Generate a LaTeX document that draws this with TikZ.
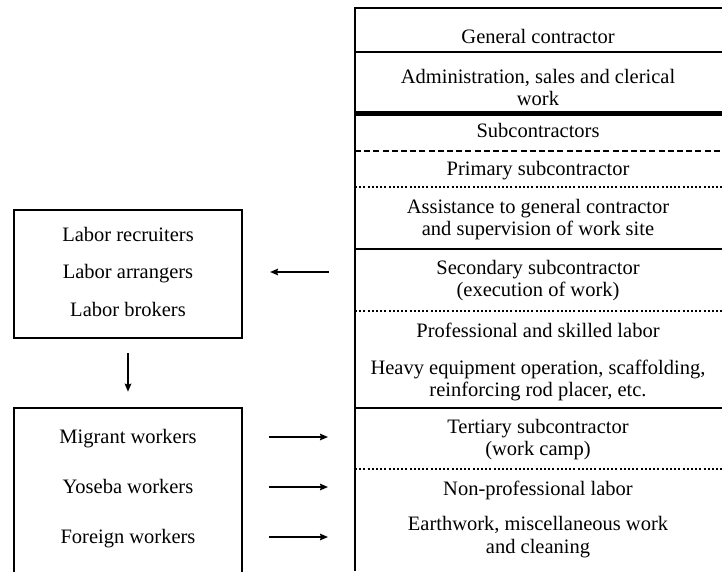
\documentclass[tikz,border=0pt]{standalone}
\usepackage{fontspec}
\setmainfont{Liberation Serif}
\usetikzlibrary{arrows.meta}
\begin{document}
\begin{tikzpicture}[x=1pt,y=-1pt,
  lbl/.style={font=\fontsize{20.5}{22}\selectfont, anchor=base, inner sep=0pt},
  frame/.style={draw, line width=2.6pt},
  solidrule/.style={line width=2.6pt},
  heavyrule/.style={line width=5pt},
  dashrule/.style={line width=2.4pt, dash pattern=on 6pt off 3.2pt},
  dotrule/.style={line width=2.4pt, dash pattern=on 2pt off 2.2pt},
  flow/.style={line width=2.6pt, -{Stealth[length=8pt,width=6.5pt,inset=1pt]}}]
\useasboundingbox (0,0) rectangle (722,571);

% ---- hierarchy column on the right ----
\draw[solidrule] (355,571) -- (355,8) -- (722,8);
\draw[solidrule] (355,52) -- (722,52);
\draw[heavyrule] (355,113) -- (722,113);
\draw[dashrule] (355,151) -- (722,151);
\draw[dotrule] (355,187) -- (722,187);
\draw[solidrule] (355,249) -- (722,249);
\draw[dotrule] (355,311) -- (722,311);
\draw[solidrule] (355,408) -- (722,408);
\draw[dotrule] (355,469) -- (722,469);

\node[lbl] (gc)     at (538,43)  {General contractor};
\node[lbl] (adm)    at (538,83)  {Administration, sales and clerical};
\node[lbl] (admb)   at (538,105) {work};
\node[lbl] (sub)    at (538,137) {Subcontractors};
\node[lbl] (prim)   at (538,175) {Primary subcontractor};
\node[lbl] (assist) at (538,213) {Assistance to general contractor};
\node[lbl] (assistb) at (538,235) {and supervision of work site};
\node[lbl] (sec)    at (538,274) {Secondary subcontractor};
\node[lbl] (secb)   at (538,296) {(execution of work)};
\node[lbl] (prof)   at (538,337) {Professional and skilled labor};
\node[lbl] (heavy)  at (538,374) {Heavy equipment operation, scaffolding,};
\node[lbl] (heavyb) at (538,396) {reinforcing rod placer, etc.};
\node[lbl] (ter)    at (538,433) {Tertiary subcontractor};
\node[lbl] (terb)   at (538,455) {(work camp)};
\node[lbl] (nonp)   at (538,495) {Non-professional labor};
\node[lbl] (earth)  at (538,530) {Earthwork, miscellaneous work};
\node[lbl] (earthb) at (538,553) {and cleaning};

% ---- intermediaries ----
\node[frame, minimum width=228pt, minimum height=128pt, inner sep=0pt] (brokers) at (128,274) {};
\node[lbl] (recr) at (128,241) {Labor recruiters};
\node[lbl] (arr)  at (128,278) {Labor arrangers};
\node[lbl] (brk)  at (128,316) {Labor brokers};

% ---- workers (box runs on past the lower edge) ----
\node[frame, minimum width=228pt, minimum height=212pt, inner sep=0pt] (workers) at (128,514) {};
\node[lbl] (mig) at (128,443) {Migrant workers};
\node[lbl] (yos) at (128,493) {Yoseba workers};
\node[lbl] (for) at (128,543) {Foreign workers};

% ---- arrows ----
\coordinate (secout) at (329,272);
\coordinate (arrin)  at (270,272);
\draw[flow] (secout) -- (arrin);
\draw[flow, shorten <=14pt, shorten >=15pt] (brokers.south) -- (workers.north);

\coordinate (m0) at (269,437); \coordinate (m1) at (328,437);
\coordinate (y0) at (269,487); \coordinate (y1) at (328,487);
\coordinate (f0) at (269,537); \coordinate (f1) at (328,537);
\draw[flow] (m0) -- (m1);
\draw[flow] (y0) -- (y1);
\draw[flow] (f0) -- (f1);
\end{tikzpicture}
\end{document}
